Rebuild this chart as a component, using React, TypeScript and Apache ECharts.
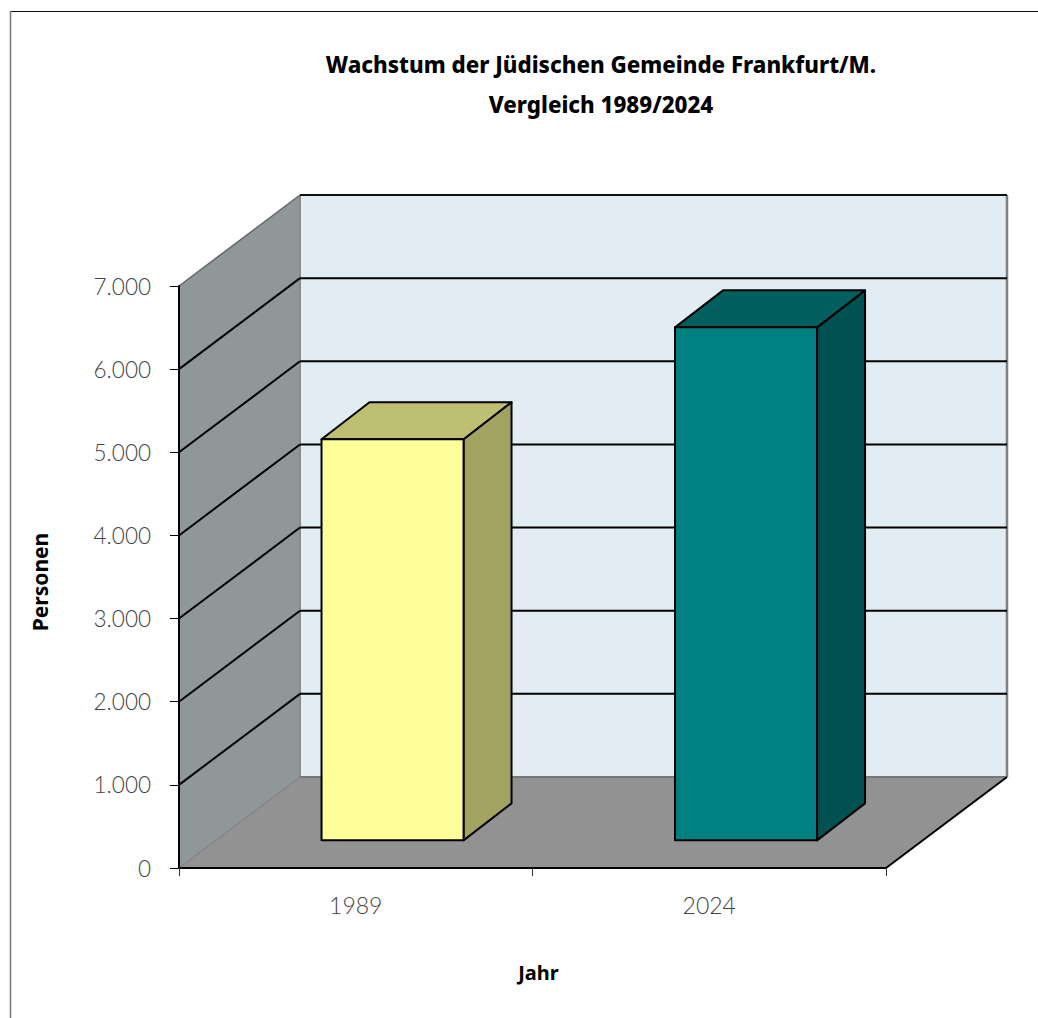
import React, { useEffect, useRef } from "react";
import * as echarts from "echarts";

const categories = ["1989", "2024"];
const persons = [4825, 6170];
const yTicks = [0, 1000, 2000, 3000, 4000, 5000, 6000, 7000];
const titleLines = ["Wachstum der Jüdischen Gemeinde Frankfurt/M.", "Vergleich 1989/2024"];
const frontColors = ["#FFFF99", "#008080"];
const topColors = ["#BFBF73", "#006060"];
const sideColors = ["#A3A361", "#005152"];

const DEPTH_X = 121;
const DEPTH_Y = -91;
const BAR_W = 142;
const BAR_START = 0.304;
const BAR_DX = 48;
const BAR_DY = -37;
const FONT = "'Noto Sans', 'Open Sans', sans-serif";
const THIN = "Lato, 'Open Sans', sans-serif";

const formatDe = (v: number) => String(v).replace(/\B(?=(\d{3})+$)/g, ".");

export default function App() {
  const ref = useRef<HTMLDivElement>(null);
  useEffect(() => {
    const chart = echarts.init(ref.current!, undefined, { renderer: "svg" });

    const renderWalls = (params: any) => {
      const g = params.coordSys;
      const l = g.x, r = g.x + g.width, t = g.y, b = g.y + g.height;
      const poly = (pts: number[][], fill: string) => ({
        type: "polygon",
        shape: { points: pts },
        style: { fill, stroke: null },
      });
      const seg = (x1: number, y1: number, x2: number, y2: number, stroke: string, w: number) => ({
        type: "line",
        shape: { x1, y1, x2, y2 },
        style: { stroke, lineWidth: w, fill: null },
      });
      return {
        type: "group",
        children: [
          poly([[l + DEPTH_X, t + DEPTH_Y], [r + DEPTH_X, t + DEPTH_Y], [r + DEPTH_X, b + DEPTH_Y], [l + DEPTH_X, b + DEPTH_Y]], "#E1ECF3"),
          poly([[l, t], [l + DEPTH_X, t + DEPTH_Y], [l + DEPTH_X, b + DEPTH_Y], [l, b]], "#8F9799"),
          poly([[l, b], [l + DEPTH_X, b + DEPTH_Y], [r + DEPTH_X, b + DEPTH_Y], [r, b]], "#929292"),
          seg(l + DEPTH_X, t + DEPTH_Y, l + DEPTH_X, b + DEPTH_Y, "#8a8a8a", 2),
          seg(l, t, l + DEPTH_X, t + DEPTH_Y, "#666666", 1.5),
          seg(l, b, l + DEPTH_X, b + DEPTH_Y, "#777777", 1),
          seg(l + DEPTH_X, b + DEPTH_Y, r + DEPTH_X, b + DEPTH_Y, "#777777", 2),
          seg(r + DEPTH_X, t + DEPTH_Y, r + DEPTH_X, b + DEPTH_Y, "#808080", 2.5),
          seg(l + DEPTH_X, t + DEPTH_Y, r + DEPTH_X, t + DEPTH_Y, "#111111", 2),
          seg(r, b, r + DEPTH_X, b + DEPTH_Y, "#000000", 2),
        ],
      };
    };

    const renderGrid = (params: any, api: any) => {
      const g = params.coordSys;
      const y = api.coord([0, api.value(1)])[1];
      const l = g.x, r = g.x + g.width;
      const v = api.value(1);
      if (v === 0 || v === 7000) return { type: "group", children: [] };
      return {
        type: "group",
        children: [
          { type: "line", shape: { x1: l, y1: y, x2: l + DEPTH_X, y2: y + DEPTH_Y }, style: { stroke: "#000", lineWidth: 2 } },
          { type: "line", shape: { x1: l + DEPTH_X, y1: y + DEPTH_Y, x2: r + DEPTH_X, y2: y + DEPTH_Y }, style: { stroke: "#000", lineWidth: 2 } },
        ],
      };
    };

    const renderBar = (params: any, api: any) => {
      const i = api.value(0);
      const top = api.coord([i, api.value(1)]);
      const base = api.coord([i, 0]);
      const x0 = top[0] + BAR_START * DEPTH_X - BAR_W / 2;
      const x1 = x0 + BAR_W;
      const yT = top[1] + BAR_START * DEPTH_Y;
      const yB = base[1] + BAR_START * DEPTH_Y;
      const edge = { stroke: "#000", lineWidth: 2, lineJoin: "round" };
      return {
        type: "group",
        children: [
          { type: "polygon", shape: { points: [[x1, yT], [x1 + BAR_DX, yT + BAR_DY], [x1 + BAR_DX, yB + BAR_DY], [x1, yB]] }, style: { fill: sideColors[i], ...edge } },
          { type: "polygon", shape: { points: [[x0, yT], [x0 + BAR_DX, yT + BAR_DY], [x1 + BAR_DX, yT + BAR_DY], [x1, yT]] }, style: { fill: topColors[i], ...edge } },
          { type: "polygon", shape: { points: [[x0, yT], [x1, yT], [x1, yB], [x0, yB]] }, style: { fill: frontColors[i], ...edge } },
        ],
      };
    };

    chart.setOption({
      animation: false,
      backgroundColor: "#ffffff",
      title: {
        text: titleLines.join("\n"),
        left: 596,
        top: 39,
        textAlign: "center",
        textStyle: { fontFamily: FONT, fontWeight: 800, fontSize: 22.3, lineHeight: 40, color: "#000" },
      },
      grid: { left: 179, top: 286, width: 707, height: 582 },
      xAxis: {
        type: "category",
        data: categories,
        z: 5,
        name: "Jahr",
        nameLocation: "middle",
        nameGap: 94,
        nameTextStyle: { fontFamily: FONT, fontWeight: "bold", fontSize: 20, color: "#000", padding: [0, 0, 0, 12] },
        axisLine: { lineStyle: { color: "#000", width: 2 } },
        axisTick: { show: true, alignWithLabel: false, length: 8, lineStyle: { color: "#333", width: 1 } },
        axisLabel: { show: true, fontFamily: THIN, fontWeight: 300, fontSize: 23, color: "#444", margin: 25 },
      },
      yAxis: {
        type: "value",
        min: 0,
        max: 7000,
        interval: 1000,
        z: 5,
        name: "Personen",
        nameLocation: "middle",
        nameGap: 129,
        nameRotate: 90,
        nameTextStyle: { fontFamily: FONT, fontWeight: "bold", fontSize: 21, color: "#000", padding: [0, 10, 0, 0] },
        axisLine: { show: true, lineStyle: { color: "#000", width: 2 } },
        axisTick: { show: true, length: 9, lineStyle: { color: "#000", width: 1 } },
        splitLine: { show: false },
        axisLabel: { fontFamily: THIN, fontWeight: 300, fontSize: 22.5, color: "#444", margin: 28, formatter: (v: number) => formatDe(v) },
      },
      graphic: [
        { type: "line", shape: { x1: 10, y1: 11.5, x2: 1038, y2: 11.5 }, style: { stroke: "#111", lineWidth: 1 }, silent: true },
        { type: "line", shape: { x1: 10.5, y1: 11, x2: 10.5, y2: 1018 }, style: { stroke: "#777", lineWidth: 1.5 }, silent: true },
      ],
      series: [
        { type: "custom", z: 0, silent: true, data: [[0, 0]], renderItem: renderWalls, encode: { x: 0, y: 1 } },
        { type: "custom", z: 1, silent: true, data: yTicks.map((v) => [0, v]), renderItem: renderGrid, encode: { x: 0, y: 1 } },
        { type: "custom", z: 2, data: categories.map((c, i) => [i, persons[i]]), renderItem: renderBar, encode: { x: 0, y: 1 } },
      ],
    });
    return () => chart.dispose();
  }, []);
  return <div ref={ref} style={{ position: "absolute", left: 0, top: 0, width: 1038, height: 1018 }} />;
}
